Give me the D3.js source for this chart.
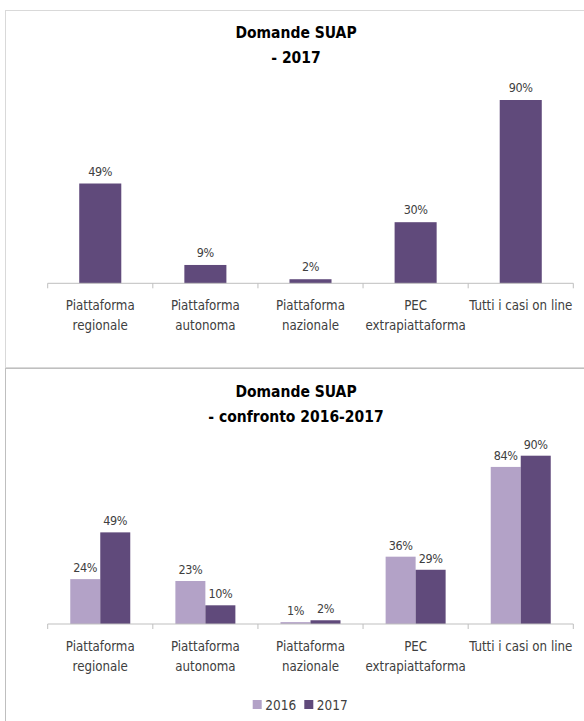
<!DOCTYPE html>
<html>
<head>
<meta charset="utf-8">
<script src="https://cdn.jsdelivr.net/npm/d3@7"></script>
<style>
  body { margin: 0; background: #fff; }
  svg { display: block; font-family: "Liberation Sans Narrow", "DejaVu Sans Condensed", "Arial Narrow", sans-serif; }
</style>
</head>
<body>
<svg id="chart" width="584" height="721"></svg>
<script>
// categories (line breaks as in the original labels)
var categories = ["Piattaforma\nregionale", "Piattaforma\nautonoma", "Piattaforma\nnazionale", "PEC\nextrapiattaforma", "Tutti i casi on line"];
var values2017 = [0.49, 0.09, 0.02, 0.30, 0.90];

var years = ["2016", "2017"];
var cmp2016 = [0.24, 0.23, 0.01, 0.36, 0.84];
var cmp2017 = [0.49, 0.10, 0.02, 0.29, 0.90];

var colors = { "2016": "#b3a2c7", "2017": "#604a7b" };
var textColor = "#404040";

var svg = d3.select("#chart");
var fmt = d3.format(".0%");

// boxes around the two charts
svg.append("rect").attr("x", 5.5).attr("y", 10.5).attr("width", 600).attr("height", 357)
    .attr("fill", "none").attr("stroke", "#d9d9d9");
svg.append("rect").attr("x", 5.5).attr("y", 368.5).attr("width", 600).attr("height", 400)
    .attr("fill", "none").attr("stroke", "#bfbfbf");

var xScale = d3.scaleBand().domain(categories).range([47.7, 573.3]);

function drawTitle(y, lines) {
    var t = svg.append("text")
        .attr("x", 296).attr("y", y)
        .attr("text-anchor", "middle")
        .attr("font-weight", "bold")
        .attr("font-size", 15.5)
        .attr("fill", "#000");
    lines.forEach(function (l, i) {
        t.append("tspan").attr("x", 296).attr("dy", i ? 25 : 0).text(l);
    });
}

function drawAxis(y0) {
    var g = svg.append("g").attr("transform", "translate(0," + y0 + ")");
    g.append("line")
        .attr("x1", xScale.range()[0]).attr("x2", xScale.range()[1])
        .attr("stroke", "#bfbfbf");
    // ticks between categories
    var bounds = categories.map(function (c) { return xScale(c); }).concat([xScale.range()[1]]);
    g.selectAll(".tick").data(bounds).enter().append("line")
        .attr("x1", function (d) { return d; }).attr("x2", function (d) { return d; })
        .attr("y1", 0).attr("y2", 5)
        .attr("stroke", "#bfbfbf");
    var labels = g.selectAll(".cat").data(categories).enter().append("text")
        .attr("x", function (d) { return xScale(d) + xScale.bandwidth() / 2; })
        .attr("y", 27)
        .attr("text-anchor", "middle")
        .attr("font-size", 13.2)
        .attr("fill", textColor);
    labels.each(function (d) {
        var el = d3.select(this);
        d.split("\n").forEach(function (l, i) {
            el.append("tspan")
                .attr("x", xScale(d) + xScale.bandwidth() / 2)
                .attr("dy", i ? 19.5 : 0)
                .text(l);
        });
    });
}

// ---- chart 1: 2017 ----
drawTitle(37.5, ["Domande SUAP", "- 2017"]);

var y1 = d3.scaleLinear().domain([0, 0.9]).range([283.3, 100]);
var barW = xScale.bandwidth() * 0.4;

svg.append("g").selectAll("rect").data(values2017).enter().append("rect")
    .attr("x", function (d, i) { return xScale(categories[i]) + (xScale.bandwidth() - barW) / 2; })
    .attr("y", function (d) { return y1(d); })
    .attr("width", barW)
    .attr("height", function (d) { return y1(0) - y1(d); })
    .attr("fill", colors["2017"]);

svg.append("g").selectAll("text").data(values2017).enter().append("text")
    .attr("x", function (d, i) { return xScale(categories[i]) + xScale.bandwidth() / 2; })
    .attr("y", function (d) { return y1(d) - 8; })
    .attr("text-anchor", "middle")
    .attr("font-size", 12.5)
    .attr("letter-spacing", -0.4)
    .attr("fill", textColor)
    .text(function (d) { return fmt(d); });

drawAxis(283.3);

// ---- chart 2: confronto ----
drawTitle(396.5, ["Domande SUAP", "- confronto 2016-2017"]);

var y2 = d3.scaleLinear().domain([0, 0.9]).range([624, 455.7]);
var pairW = 60;
var xSub = d3.scaleBand().domain(years).range([0, pairW]);

var series = [
    { year: "2016", values: cmp2016 },
    { year: "2017", values: cmp2017 }
];

var groups = svg.append("g").selectAll("g").data(series).enter().append("g");

groups.selectAll("rect").data(function (s) {
    return s.values.map(function (v, i) { return { year: s.year, cat: categories[i], v: v }; });
}).enter().append("rect")
    .attr("x", function (d) { return xScale(d.cat) + (xScale.bandwidth() - pairW) / 2 + xSub(d.year); })
    .attr("y", function (d) { return y2(d.v); })
    .attr("width", xSub.bandwidth())
    .attr("height", function (d) { return y2(0) - y2(d.v); })
    .attr("fill", function (d) { return colors[d.year]; });

groups.selectAll("text").data(function (s) {
    return s.values.map(function (v, i) { return { year: s.year, cat: categories[i], v: v }; });
}).enter().append("text")
    .attr("x", function (d) { return xScale(d.cat) + (xScale.bandwidth() - pairW) / 2 + xSub(d.year) + xSub.bandwidth() / 2; })
    .attr("y", function (d) { return y2(d.v) - 7; })
    .attr("text-anchor", "middle")
    .attr("font-size", 12.5)
    .attr("letter-spacing", -0.4)
    .attr("fill", textColor)
    .text(function (d) { return fmt(d.v); });

drawAxis(624);

// legend
var legend = svg.append("g").attr("transform", "translate(252.7,700)");
var lx = [0, 51.6];
years.forEach(function (yr, i) {
    legend.append("rect").attr("x", lx[i]).attr("y", 0).attr("width", 9).attr("height", 9)
        .attr("fill", colors[yr]);
    legend.append("text").attr("x", lx[i] + 12.5).attr("y", 9.5)
        .attr("font-size", 13.5).attr("fill", textColor).text(yr);
});
</script>
</body>
</html>
